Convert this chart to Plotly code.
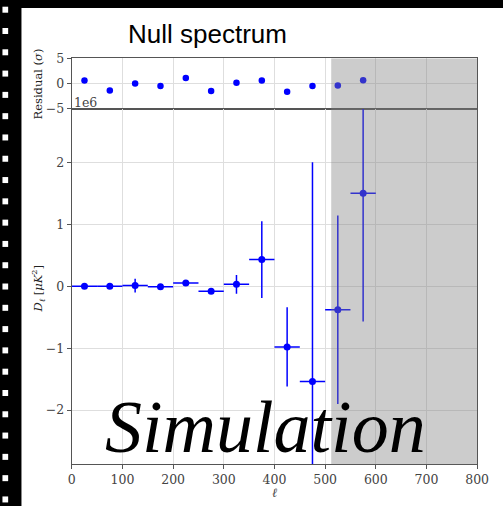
import plotly.graph_objects as go

# ---- data -------------------------------------------------------------
ell_centers = [25, 75, 125, 175, 225, 275, 325, 375, 425, 475, 525, 575]
ell_halfwidth = [25, 25, 25, 25, 25, 25, 25, 25, 25, 25, 25, 25]

# residuals in units of sigma
residuals = [0.6, -1.4, 0.0, -0.5, 1.1, -1.5, 0.15, 0.6, -1.65, -0.5, -0.4, 0.65]

# D_ell null spectrum, in units of 1e6 uK^2
dl_values = [0.0, 0.0, 0.01, -0.01, 0.05, -0.08, 0.03, 0.43, -0.98, -1.54, -0.38, 1.50]
dl_errors = [0.01, 0.01, 0.11, 0.01, 0.02, 0.03, 0.15, 0.62, 0.64, 3.54, 1.52, 2.07]

excluded_range = [512, 800]
x_ticks = [0, 100, 200, 300, 400, 500, 600, 700, 800]
resid_ticks = [5, 0, -5]
dl_ticks = [-2, -1, 0, 1, 2]

# ---- geometry (pixels -> paper) --------------------------------------
W, H = 503, 506
PAPER_X0, PAPER_W = 3.55, 486.6
PAPER_Y0, PAPER_H = 8.0, 490.0


def px(x):
    return (x - PAPER_X0) / PAPER_W


def py(y):
    return 1 - (y - PAPER_Y0) / PAPER_H


AX_L, AX_R = 71.3, 476.3
TOP_T, MID, BOT_B = 58.3, 108.3, 463.3

BLUE = "#0000ff"
SERIF = "DejaVu Serif"
TICK_COL = "#444444"
SPINE = "#555555"
GRID = "#dedede"

fig = go.Figure()

# residual panel
fig.add_trace(go.Scatter(
    x=ell_centers, y=residuals, mode="markers",
    marker=dict(color=BLUE, size=6.5),
    xaxis="x", yaxis="y", showlegend=False,
))

# spectrum panel
fig.add_trace(go.Scatter(
    x=ell_centers, y=dl_values, mode="markers",
    marker=dict(color=BLUE, size=7),
    error_y=dict(type="data", array=dl_errors, color=BLUE, thickness=1.5, width=0),
    error_x=dict(type="data", array=ell_halfwidth, color=BLUE, thickness=1.5, width=0),
    xaxis="x2", yaxis="y2", showlegend=False,
))

axis_common = dict(
    showline=True, linecolor=SPINE, linewidth=1.2, mirror=True,
    showgrid=True, gridcolor=GRID, gridwidth=1, zeroline=False,
    tickfont=dict(family=SERIF, size=12.5, color=TICK_COL),
)

fig.update_layout(
    width=W, height=H,
    margin=dict(l=0, r=0, t=0, b=0),
    paper_bgcolor="black",
    plot_bgcolor="white",
    xaxis=dict(domain=[px(AX_L), px(AX_R)], anchor="y", range=[0, 800],
               matches="x2", showticklabels=False, ticks="",
               tickvals=x_ticks, **axis_common),
    yaxis=dict(domain=[py(MID), py(TOP_T)], anchor="x", range=[-5, 5],
               tickvals=resid_ticks, ticks="outside", ticklen=4,
               tickcolor=SPINE, **axis_common),
    xaxis2=dict(domain=[px(AX_L), px(AX_R)], anchor="y2", range=[0, 800],
                tickvals=x_ticks, ticks="outside", ticklen=4,
                tickcolor=SPINE, **axis_common),
    yaxis2=dict(domain=[py(BOT_B), py(MID)], anchor="x2", range=[-2.874, 2.869],
                tickvals=dl_ticks, ticks="outside", ticklen=4,
                tickcolor=SPINE, **axis_common),
)

shapes = []
# white panel behind everything
shapes.append(dict(type="rect", xref="paper", yref="paper",
                   x0=px(21), x1=px(530), y0=py(530), y1=py(8),
                   fillcolor="white", line=dict(width=0), layer="below"))
# sprocket holes down the left edge
for k in range(24):
    top = 6.7 + 21.25 * k
    shapes.append(dict(type="rect", xref="paper", yref="paper",
                       x0=px(2), x1=px(7.7), y0=py(top + 6), y1=py(top),
                       fillcolor="white", line=dict(width=0), layer="below"))
# excluded multipole range, shaded over both panels
for yref in ("y domain", "y2 domain"):
    shapes.append(dict(type="rect", xref="x2", yref=yref,
                       x0=excluded_range[0], x1=excluded_range[1], y0=0, y1=1,
                       fillcolor="rgba(128,128,128,0.4)", line=dict(width=0),
                       layer="above"))
fig.update_layout(shapes=shapes)

annotations = [
    dict(text="Null spectrum", x=px(207), y=py(33.7), xref="paper", yref="paper",
         xanchor="center", yanchor="middle", showarrow=False,
         font=dict(family="Liberation Sans", size=26, color="black")),
    dict(text="Residual (<i>σ</i>)", x=px(37.5), y=py(83.3), xref="paper", yref="paper",
         xanchor="center", yanchor="middle", textangle=-90, showarrow=False,
         font=dict(family=SERIF, size=11.5, color="#222222")),
    dict(text="<i>D</i><sub><i>ℓ</i></sub> [<i>μK</i><sup>2</sup>]", x=px(37.5), y=py(288),
         xref="paper", yref="paper", xanchor="center", yanchor="middle",
         textangle=-90, showarrow=False,
         font=dict(family=SERIF, size=11.5, color="#222222")),
    dict(text="1e6", x=px(71.5), y=py(102.8), xref="paper", yref="paper",
         xanchor="left", yanchor="middle", showarrow=False,
         font=dict(family=SERIF, size=12.5, color=TICK_COL)),
    dict(text="<i>ℓ</i>", x=px(273.5), y=py(491.5), xref="paper", yref="paper",
         xanchor="center", yanchor="middle", showarrow=False,
         font=dict(family=SERIF, size=12.5, color=TICK_COL)),
    dict(text="<i>Simulation</i>", x=px(264.5), y=py(426.4), xref="paper", yref="paper",
         xanchor="center", yanchor="middle", showarrow=False,
         font=dict(family="Liberation Serif", size=74, color="black")),
]
fig.update_layout(annotations=annotations)

fig.write_html("out.html")
